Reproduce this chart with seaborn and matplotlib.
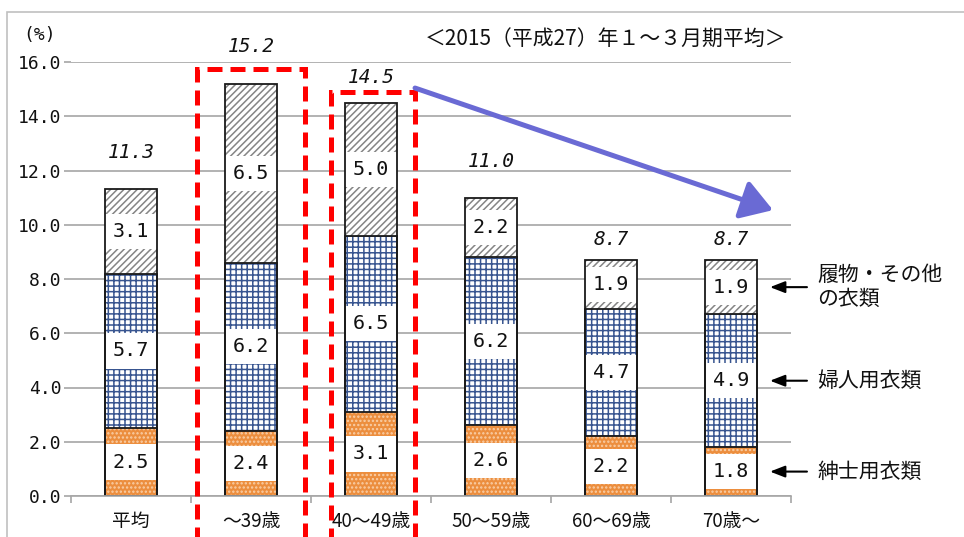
import matplotlib
matplotlib.use('Agg')
import matplotlib.pyplot as plt
import seaborn as sns
import numpy as np
from matplotlib.patches import Rectangle, FancyArrowPatch
from matplotlib.ticker import FormatStrFormatter

# ---------------- data ----------------
categories = ['平均', '～39歳', '40～49歳', '50～59歳', '60～69歳', '70歳～']
mens = [2.5, 2.4, 3.1, 2.6, 2.2, 1.8]          # 紳士用衣類
womens = [5.7, 6.2, 6.5, 6.2, 4.7, 4.9]        # 婦人用衣類
others = [3.1, 6.5, 5.0, 2.2, 1.9, 1.9]        # 履物・その他の衣類
totals = [11.3, 15.2, 14.5, 11.0, 8.7, 8.7]
series_names = ['紳士用衣類', '婦人用衣類', '履物・その他\nの衣類']
title_text = '＜2015（平成27）年１～３月期平均＞'
unit_text = '(%)'
y_ticks = [0, 2, 4, 6, 8, 10, 12, 14, 16]

# ---------------- style ----------------
total_label_gap = [1.36, 1.37, 0.92, 1.32, 0.75, 0.75]
BAR_W = 0.43
BOX_H = 1.3
GRID_C = '#A6A6A6'

sns.set_theme(style='white')
plt.rcParams['font.family'] = ['Noto Sans CJK JP', 'DejaVu Sans']
plt.rcParams['hatch.linewidth'] = 1.1

fig = plt.figure(figsize=(9.64, 5.37), dpi=100)
ax = fig.add_axes([71 / 964, 41 / 537, 720 / 964, 434 / 537])

cum1 = np.array(mens, dtype=float)
cum2 = cum1 + np.array(womens)
cum3 = np.array(totals, dtype=float)
pos = np.arange(len(categories))

ax.set_axisbelow(True)
ax.yaxis.grid(True, color=GRID_C, lw=1.2)
ax.xaxis.grid(False)

common = dict(x=categories, order=categories, width=BAR_W, errorbar=None,
              saturation=1, ax=ax)

# pattern fills (back to front)
sns.barplot(y=cum3, color='white', edgecolor='#858585', hatch='/////', linewidth=0, **common)
sns.barplot(y=cum2, color='white', edgecolor='#385590', hatch='+++', linewidth=0, **common)
sns.barplot(y=cum1, color='#EC8E3E', edgecolor='#F9CFA8', hatch='....', linewidth=0, **common)

# white label boxes + labels
seg_bottoms = [np.zeros(len(pos)), cum1, cum2]
seg_tops = [cum1, cum2, cum3]
seg_vals = [mens, womens, others]
for b, t, v in zip(seg_bottoms, seg_tops, seg_vals):
    centers = (b + t) / 2
    ax.bar(pos, BOX_H, bottom=centers - BOX_H / 2, width=BAR_W, color='white',
           linewidth=0, zorder=1)
    for i in pos:
        ax.text(i, centers[i], f'{v[i]:.1f}', ha='center', va='center',
                family='DejaVu Sans Mono', fontsize=14.5, color='#111111', zorder=3)

# outlines
for c in [cum3, cum2, cum1]:
    sns.barplot(y=c, color='white', facecolor='none', edgecolor='#1A1A1A',
                linewidth=1.3, **common)

# totals
for i in pos:
    ax.text(i, totals[i] + total_label_gap[i], f'{totals[i]:.1f}', ha='center',
            va='center', family='DejaVu Sans Mono', style='italic', fontsize=14,
            color='#111111')

# axes
ax.set_xlim(-0.5, 5.5)
ax.set_ylim(0, 16)
ax.set_yticks(y_ticks)
ax.yaxis.set_major_formatter(FormatStrFormatter('%.1f'))
ax.set_xlabel('')
ax.set_ylabel('')
for s in ['left', 'right', 'top']:
    ax.spines[s].set_visible(False)
ax.spines['bottom'].set_color(GRID_C)
ax.spines['bottom'].set_linewidth(1.2)
ax.set_xticks(np.arange(-0.5, 6, 1), minor=True)
ax.tick_params(axis='x', which='major', bottom=True, length=0, pad=11,
               labelsize=13.5, labelcolor='#111111')
ax.tick_params(axis='x', which='minor', bottom=True, length=5, width=1.2,
               color=GRID_C, direction='out')
ax.tick_params(axis='y', which='major', left=True, length=5, width=1.2,
               color=GRID_C, direction='out', pad=2, labelsize=13,
               labelcolor='#111111')
for lab in ax.get_yticklabels():
    lab.set_family('DejaVu Sans Mono')

# red dashed highlight boxes
ax.add_patch(Rectangle((0.55, -2.5), 0.90, 15.74 + 2.5, fill=False, ec='#FF0000',
                       lw=3.6, linestyle=(0, (3, 1.6)), clip_on=False, zorder=4))
ax.add_patch(Rectangle((1.667, -2.5), 0.70, 14.89 + 2.5, fill=False, ec='#FF0000',
                       lw=3.6, linestyle=(0, (3, 1.6)), clip_on=False, zorder=4))

# blue trend arrow
ax.add_patch(FancyArrowPatch((2.367, 15.04), (5.35, 10.54),
                             arrowstyle='-|>,head_length=1.9,head_width=1.2',
                             mutation_scale=10, lw=3.6, color='#6A6AD4',
                             shrinkA=0, shrinkB=0, clip_on=False, zorder=5))

# right-side series labels pointing at last bar
last = len(pos) - 1
label_ys = [(seg_bottoms[k][last] + seg_tops[k][last]) / 2 for k in range(3)]
for name, yv in zip(series_names, label_ys):
    ax.annotate('', xy=(5.325, yv), xytext=(5.633, yv),
                arrowprops=dict(arrowstyle='-|>,head_length=0.9,head_width=0.35',
                                lw=1.5, color='black', shrinkA=0, shrinkB=0,
                                mutation_scale=10),
                annotation_clip=False)
    ax.text(5.717, yv, name, ha='left', va='center', fontsize=15, linespacing=1.1,
            color='#111111', clip_on=False)

# title, unit, outer frame
fig.text(786 / 964, 1 - 40 / 537, title_text, ha='right', va='center', fontsize=15,
         color='#111111')
fig.text(40 / 964, 1 - 35 / 537, unit_text, ha='center', va='center',
         family='DejaVu Sans Mono', fontsize=13, color='#111111')
fig.add_artist(Rectangle((7 / 964, -0.05), 1.0, (537 - 12) / 537 + 0.05,
                         transform=fig.transFigure, fill=False, ec='#C0C0C0', lw=1.2))

fig.savefig('out.png', dpi=100)
